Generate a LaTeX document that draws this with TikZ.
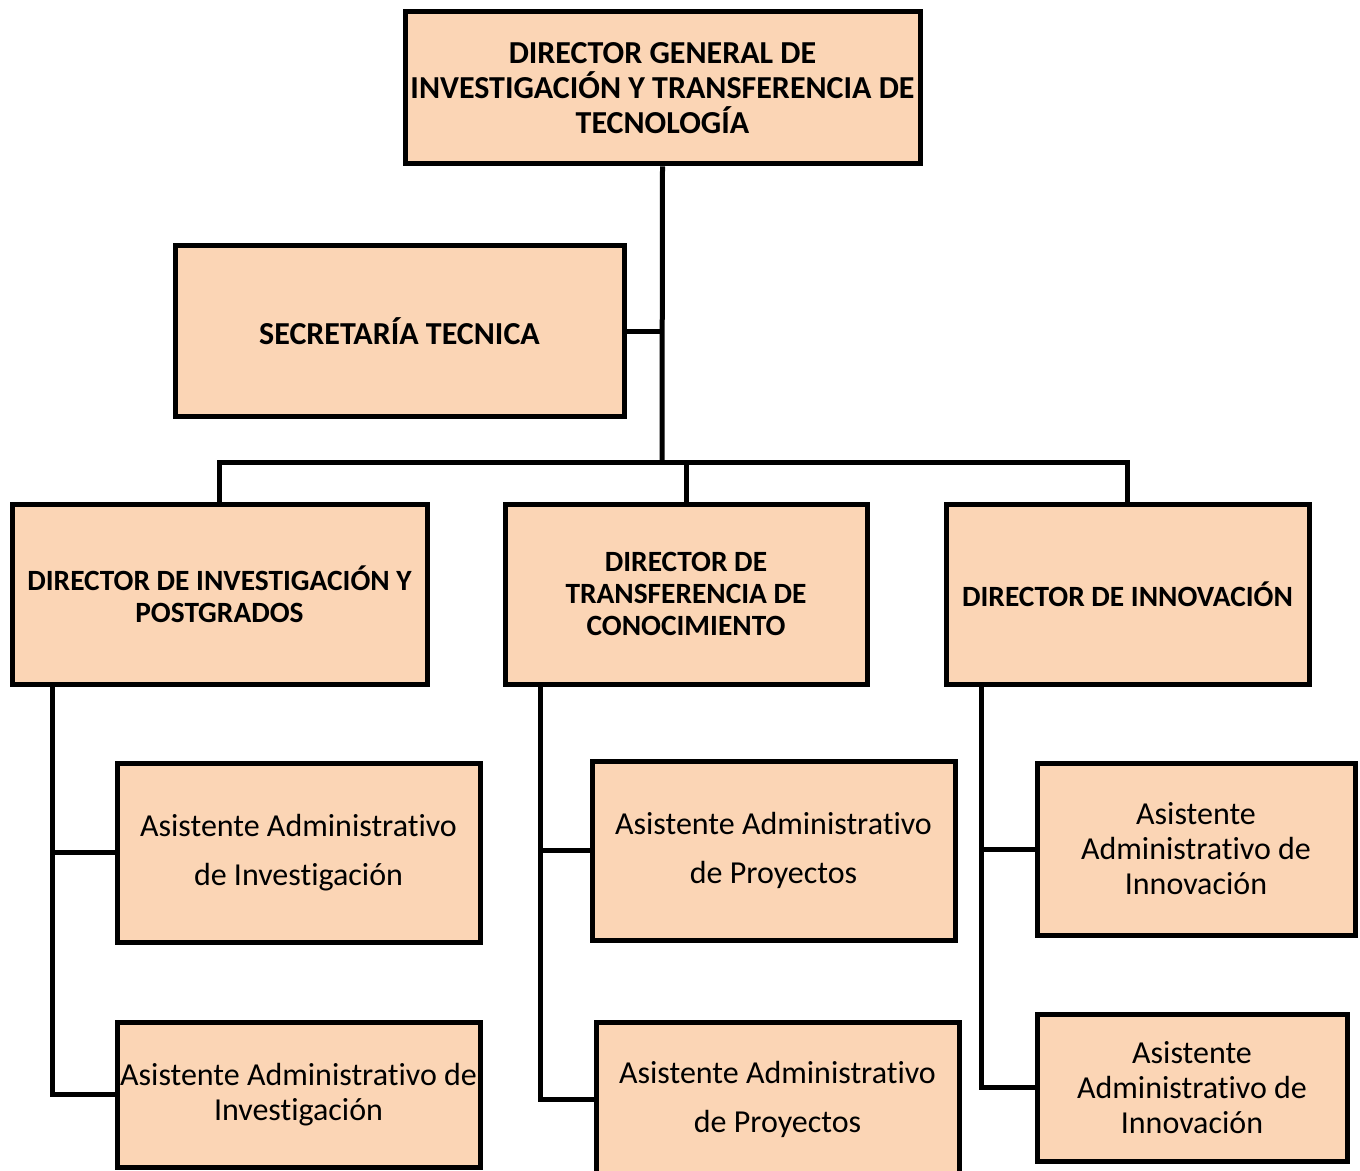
\documentclass[tikz,border=0pt]{standalone}
\usepackage{fontspec}
\setmainfont{Carlito}[Ligatures={NoCommon}]
\definecolor{boxfill}{HTML}{FBD5B5}
\tikzset{
  unit/.style={x=0.5pt,y=-0.5pt},
  orgbox/.style={draw=black, fill=boxfill, line width=2.5pt, rectangle,
    align=center, inner sep=0pt, text=black},
  headbox/.style={orgbox, font=\fontsize{16}{17.5}\selectfont\bfseries},
  dirbox/.style={orgbox, font=\fontsize{14.7}{16}\selectfont\bfseries},
  asstbox/.style={orgbox, font=\fontsize{16}{17.5}\selectfont},
  wideasst/.style={orgbox, font=\fontsize{16}{24.5}\selectfont},
  link/.style={draw=black, line width=2.5pt, line join=miter}
}
\begin{document}
\begin{tikzpicture}[unit]
\useasboundingbox (0,0) rectangle (1360,1171);
\clip (0,0) rectangle (1360,1171);
\fill[white] (0,0) rectangle (1360,1171);

% general director and technical secretariat
\node[headbox, minimum width=257.5pt, minimum height=76pt] (top) at (662.5,88)
  {DIRECTOR GENERAL DE\\INVESTIGACIÓN Y TRANSFERENCIA DE\\TECNOLOGÍA};
\node[headbox, minimum width=224.5pt, minimum height=85.5pt] (sec) at (399.5,331.5)
  {SECRETARÍA TECNICA};

% directors
\node[dirbox, minimum width=207.5pt, minimum height=90pt] (d1) at (219.5,594)
  {DIRECTOR DE INVESTIGACIÓN Y\\POSTGRADOS};
\node[dirbox, minimum width=181pt, minimum height=90pt] (d2) at (686,594)
  {DIRECTOR DE\\TRANSFERENCIA DE\\CONOCIMIENTO};
\node[dirbox, minimum width=181.5pt, minimum height=90pt] (d3) at (1127.5,594)
  {DIRECTOR DE INNOVACIÓN};

% assistants
\node[wideasst, minimum width=181.5pt, minimum height=89.5pt] (a1) at (298.5,852.5)
  {Asistente Administrativo\\de Investigación};
\node[asstbox, minimum width=181.5pt, minimum height=72.5pt] (a2) at (298.5,1094.5)
  {Asistente Administrativo de\\Investigación};
\node[wideasst, minimum width=181.5pt, minimum height=89.5pt] (a3) at (773.5,850.5)
  {Asistente Administrativo\\de Proyectos};
\node[wideasst, minimum width=181.5pt, minimum height=77pt] (a4) at (777.5,1099)
  {Asistente Administrativo\\de Proyectos};
\node[asstbox, minimum width=159pt, minimum height=86pt] (a5) at (1196,849)
  {Asistente\\Administrativo de\\Innovación};
\node[asstbox, minimum width=155pt, minimum height=73.5pt] (a6) at (1192,1087.5)
  {Asistente\\Administrativo de\\Innovación};

% trunk and bus
\coordinate (bus) at (662,463);
\coordinate (s1) at (52,684);
\coordinate (s2) at (540,684);
\coordinate (s3) at (981,684);
\draw[link] (top.south) -- (bus);
\draw[link] (sec.east) -- (sec.east -| top.south);
\draw[link] (d1.north) |- (bus) -| (d3.north);
\draw[link] (d2.north) -- (d2.north |- bus);

% branches to assistants
\draw[link] (s1) |- (a2.west);
\draw[link] (a1.west) -- (a1.west -| s1);
\draw[link] (s2) |- (a4.west);
\draw[link] (a3.west) -- (a3.west -| s2);
\draw[link] (s3) |- (a6.west);
\draw[link] (a5.west) -- (a5.west -| s3);
\end{tikzpicture}
\end{document}
